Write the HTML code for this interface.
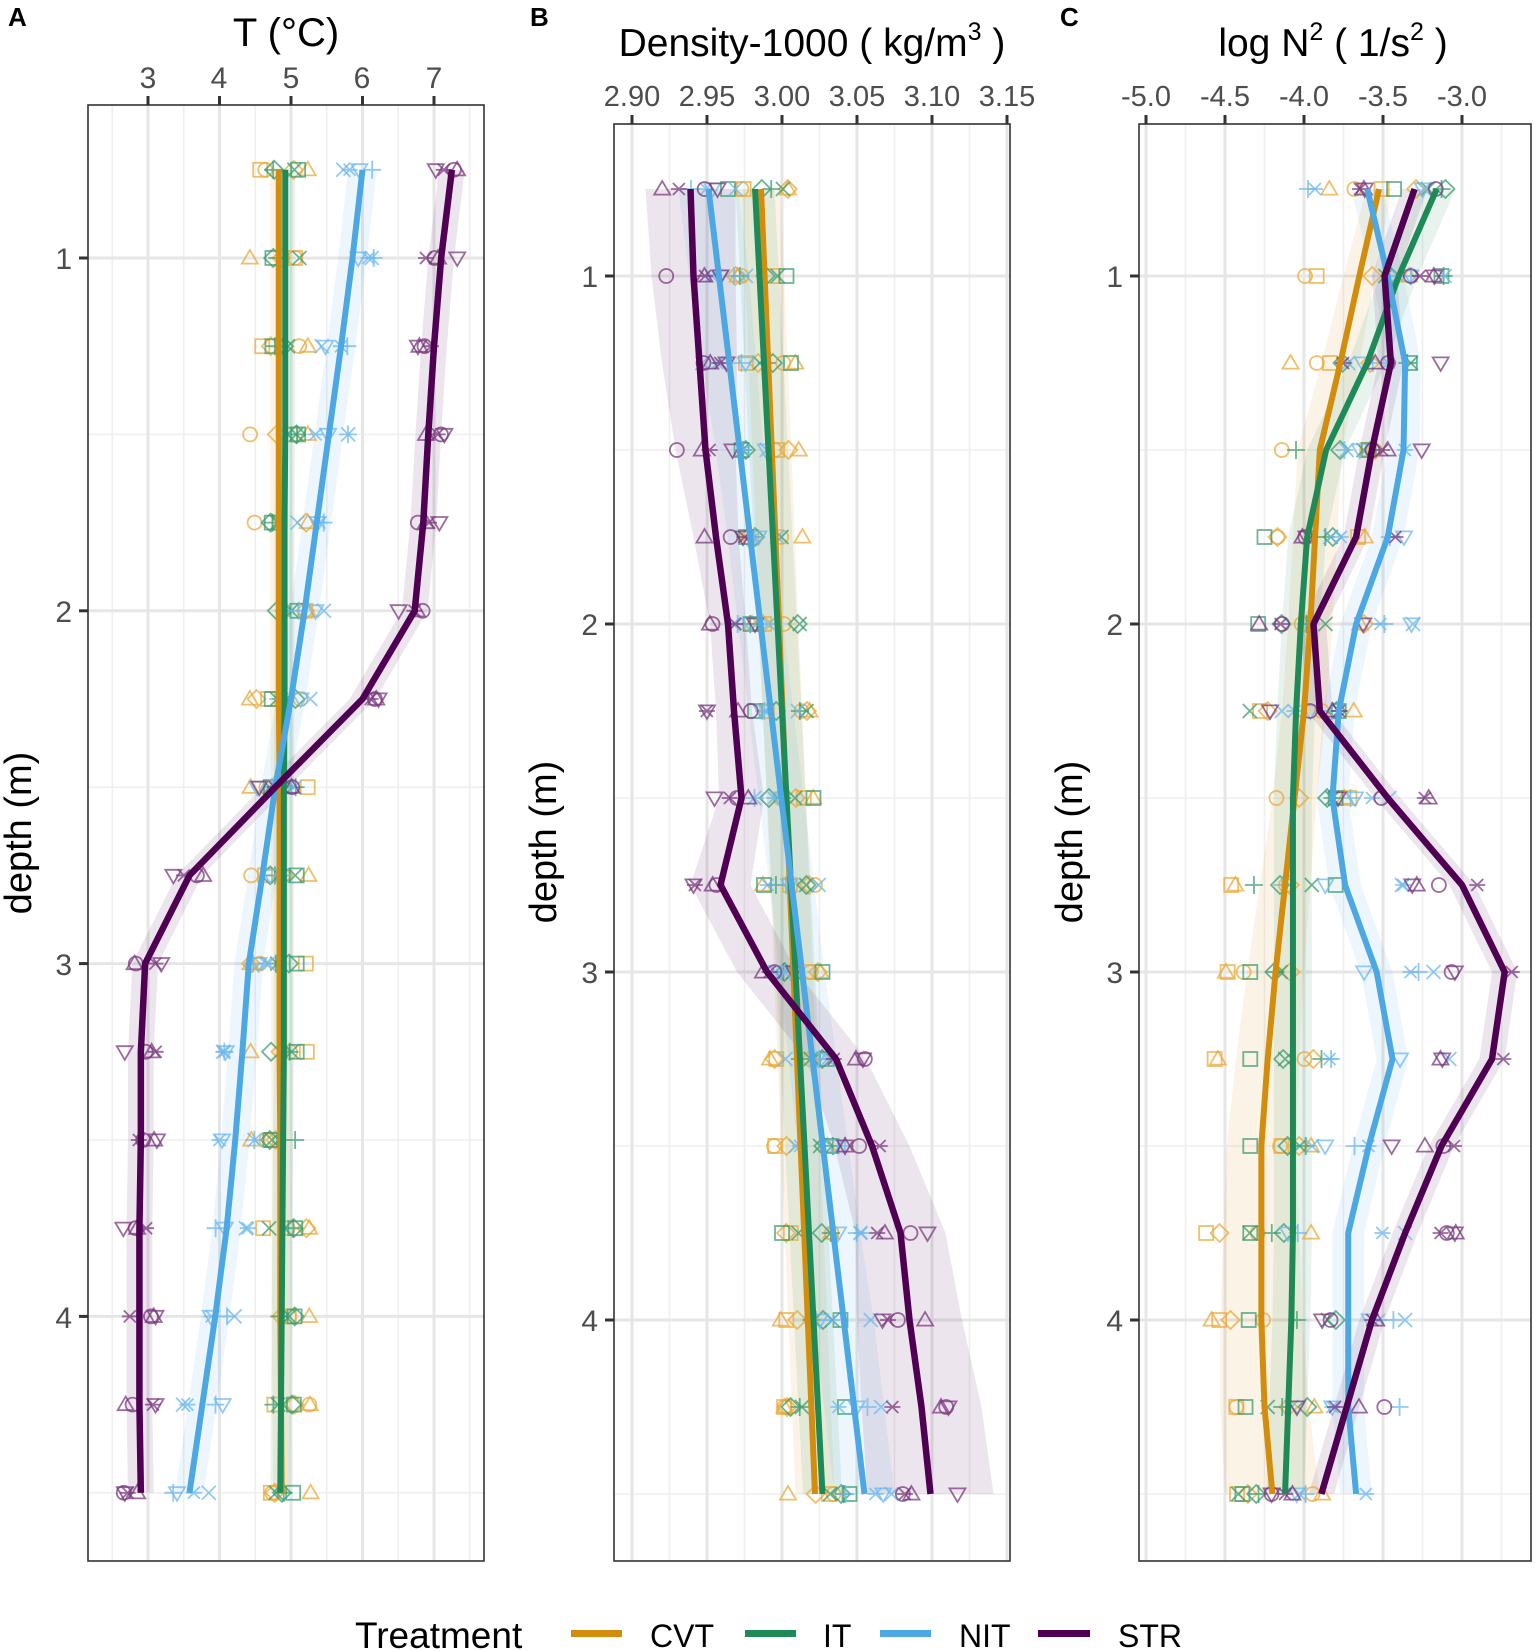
<!DOCTYPE html>
<html><head><meta charset="utf-8"><style>
html,body{margin:0;padding:0;background:#fff;}
body{width:1535px;height:1651px;overflow:hidden;position:relative;font-family:"Liberation Sans",sans-serif;}
svg{position:absolute;left:0;top:0;}
</style></head><body>
<svg id="s" width="1535" height="1651" xmlns="http://www.w3.org/2000/svg" font-family="Liberation Sans, sans-serif">
<g id="plots"></g>
<text x="8" y="26" font-size="26" font-weight="bold">A</text>
<text x="530" y="26" font-size="26" font-weight="bold">B</text>
<text x="1060" y="26" font-size="26" font-weight="bold">C</text>
<text x="286" y="46" font-size="40" text-anchor="middle">T (°C)</text>
<text x="812" y="56" font-size="39" text-anchor="middle">Density-1000 ( kg/m<tspan font-size="25" dy="-16">3</tspan><tspan dy="16"> )</tspan></text>
<text x="1333" y="56" font-size="39" text-anchor="middle">log  N<tspan font-size="25" dy="-16">2</tspan><tspan dy="16"> ( 1/s</tspan><tspan font-size="25" dy="-16">2</tspan><tspan dy="16"> )</tspan></text>
<g font-size="30" fill="#4d4d4d" text-anchor="middle">
<text x="148" y="88">3</text><text x="219" y="88">4</text><text x="291" y="88">5</text><text x="362" y="88">6</text><text x="434" y="88">7</text>
</g>
<g font-size="29" fill="#4d4d4d" text-anchor="middle">
<text x="632" y="106">2.90</text><text x="707" y="106">2.95</text><text x="782" y="106">3.00</text><text x="857" y="106">3.05</text><text x="932" y="106">3.10</text><text x="1007" y="106">3.15</text>
<text x="1146" y="106">-5.0</text><text x="1225" y="106">-4.5</text><text x="1304" y="106">-4.0</text><text x="1383" y="106">-3.5</text><text x="1462" y="106">-3.0</text>
</g>
<g font-size="30" fill="#4d4d4d" text-anchor="end">
<text x="72" y="269">1</text><text x="72" y="622">2</text><text x="72" y="975">3</text><text x="72" y="1328">4</text>
<text x="598" y="287">1</text><text x="598" y="635">2</text><text x="598" y="983">3</text><text x="598" y="1331">4</text>
<text x="1123" y="287">1</text><text x="1123" y="635">2</text><text x="1123" y="983">3</text><text x="1123" y="1331">4</text>
</g>
<text transform="translate(31,833) rotate(-90)" font-size="38" text-anchor="middle">depth (m)</text>
<text transform="translate(556,842) rotate(-90)" font-size="38" text-anchor="middle">depth (m)</text>
<text transform="translate(1082,842) rotate(-90)" font-size="38" text-anchor="middle">depth (m)</text>
<text x="355" y="1648" font-size="37">Treatment</text>
<rect x="571" y="1630" width="51" height="7" fill="#D38D0C"/>
<text x="650" y="1647" font-size="32">CVT</text>
<rect x="745" y="1630" width="51" height="7" fill="#1E8A58"/>
<text x="823" y="1647" font-size="32">IT</text>
<rect x="880" y="1630" width="51" height="7" fill="#4BA8E3"/>
<text x="959" y="1647" font-size="32">NIT</text>
<rect x="1038" y="1630" width="52" height="7" fill="#500053"/>
<text x="1118" y="1647" font-size="32">STR</text>
</svg>
<script>
(function(){
var NS="http://www.w3.org/2000/svg",G=document.getElementById("plots");
function el(n,a,p){var e=document.createElementNS(NS,n);for(var k in a)e.setAttribute(k,a[k]);(p||G).appendChild(e);return e;}
var C={CVT:"#D38D0C",IT:"#1E8A58",NIT:"#4BA8E3",STR:"#500053"};
var MC={CVT:"#E9A93A",IT:"#3C9C70",NIT:"#6DB8EC",STR:"#7A3A7E"};
var depths=[];for(var d=0.75;d<=4.51;d+=0.25)depths.push(d);
var seed=7;function rnd(){seed=(seed*16807)%2147483647;return seed/2147483647;}
function panel(P){
  var xf=P.xf,yf=P.yf;
  for(var v=P.minStart;v<=P.xmax;v+=P.minStep){var x=xf(v);if(x>P.l&&x<P.r)el("line",{x1:x,x2:x,y1:P.t,y2:P.b,stroke:"#efefef","stroke-width":1.6});}
  for(var d=0.5;d<=4.6;d+=0.5){var y=yf(d);if(y>P.t&&y<P.b)el("line",{x1:P.l,x2:P.r,y1:y,y2:y,stroke:(d%1==0)?"#e6e6e6":"#efefef","stroke-width":(d%1==0)?3:1.6});}
  P.majors.forEach(function(v){var x=xf(v);el("line",{x1:x,x2:x,y1:P.t,y2:P.b,stroke:"#e6e6e6","stroke-width":3});
    el("line",{x1:x,x2:x,y1:P.t-9,y2:P.t,stroke:"#333","stroke-width":3});});
  [1,2,3,4].forEach(function(d){var y=yf(d);el("line",{x1:P.l-9,x2:P.l,y1:y,y2:y,stroke:"#333","stroke-width":3});});
  ["CVT","IT","NIT","STR"].forEach(function(k){
    var s=P.data[k],w=P.rib[k],pts=[],i;
    for(i=0;i<s.length;i++)pts.push((xf(s[i]-w[i]))+","+yf(depths[i]));
    for(i=s.length-1;i>=0;i--)pts.push((xf(s[i]+w[i]))+","+yf(depths[i]));
    el("polygon",{points:pts.join(" "),fill:C[k],"fill-opacity":0.1});
  });
  var shapes=["tri","circ","sq","dia","x","plus","tridn","star"];
  ["CVT","IT","NIT","STR"].forEach(function(k,ki){
    var s=P.data[k];
    for(var i=0;i<s.length;i++){
      for(var j=0;j<4;j++){
        var off=(rnd()-0.5)*2*P.spread[k];
        if(j==0) off=P.spread[k]*0.9*(rnd()>0.5?1:-1);
        var x=xf(s[i]+off),y=yf(depths[i]);
        if(x<P.l+8||x>P.r-8)continue;
        mk(shapes[(ki*2+j)%8],x,y,MC[k]);
      }
    }
  });
  ["CVT","IT","NIT","STR"].forEach(function(k){
    var s=P.data[k],pts=[];
    for(var i=0;i<s.length;i++)pts.push(xf(s[i])+","+yf(depths[i]));
    el("polyline",{points:pts.join(" "),fill:"none",stroke:C[k],"stroke-width":k=="STR"?6.5:6,"stroke-linejoin":"round"});
  });
  el("rect",{x:P.l,y:P.t,width:P.r-P.l,height:P.b-P.t,fill:"none",stroke:"#333","stroke-width":1.6});
}
function mk(t,x,y,c){
  var a={fill:"none",stroke:c,"stroke-width":1.8,"stroke-opacity":0.75},r=8;
  if(t=="tri")el("polygon",Object.assign({points:x+","+(y-r)+" "+(x-r)+","+(y+r*0.7)+" "+(x+r)+","+(y+r*0.7)},a));
  else if(t=="tridn")el("polygon",Object.assign({points:x+","+(y+r)+" "+(x-r)+","+(y-r*0.7)+" "+(x+r)+","+(y-r*0.7)},a));
  else if(t=="circ")el("circle",Object.assign({cx:x,cy:y,r:7},a));
  else if(t=="sq")el("rect",Object.assign({x:x-7,y:y-7,width:14,height:14},a));
  else if(t=="dia")el("polygon",Object.assign({points:x+","+(y-r-1)+" "+(x+r+1)+","+y+" "+x+","+(y+r+1)+" "+(x-r-1)+","+y},a));
  else if(t=="x")el("path",Object.assign({d:"M"+(x-7)+" "+(y-7)+"L"+(x+7)+" "+(y+7)+"M"+(x+7)+" "+(y-7)+"L"+(x-7)+" "+(y+7)},a));
  else if(t=="plus")el("path",Object.assign({d:"M"+(x-9)+" "+y+"L"+(x+9)+" "+y+"M"+x+" "+(y-9)+"L"+x+" "+(y+9)},a));
  else el("path",Object.assign({d:"M"+(x-8)+" "+y+"L"+(x+8)+" "+y+"M"+(x-6)+" "+(y-6)+"L"+(x+6)+" "+(y+6)+"M"+(x+6)+" "+(y-6)+"L"+(x-6)+" "+(y+6)},a));
}
function fill(v,n){var a=[];for(var i=0;i<n;i++)a.push(v);return a;}
function lerp(a,b){var r=[];for(var i=0;i<16;i++)r.push(a+(b-a)*i/15);return r;}
panel({l:88,r:484,t:105,b:1561,xf:function(v){return 148+(v-3)*71.5},yf:function(d){return 258+(d-1)*352.8},
 minStart:2.5,minStep:0.5,xmax:7.7,majors:[3,4,5,6,7],
 data:{CVT:[4.83,4.83,4.83,4.83,4.83,4.83,4.83,4.84,4.84,4.84,4.84,4.85,4.85,4.85,4.86,4.87],
       IT:[4.92,4.92,4.92,4.92,4.91,4.91,4.91,4.9,4.9,4.9,4.9,4.89,4.88,4.87,4.86,4.85],
       NIT:[6.0,5.86,5.7,5.53,5.36,5.19,5.0,4.78,4.6,4.41,4.32,4.22,4.1,3.94,3.76,3.58],
       STR:[7.25,7.1,7.0,6.92,6.85,6.73,6.0,4.78,3.58,2.96,2.9,2.9,2.88,2.88,2.88,2.9]},
 rib:{CVT:fill(0.12,16),IT:fill(0.14,16),NIT:fill(0.2,16),STR:fill(0.18,16)},
 spread:{CVT:0.45,IT:0.2,NIT:0.3,STR:0.25}});
panel({l:614,r:1010,t:124,b:1561,xf:function(v){return 632+(v-2.9)/0.05*75},yf:function(d){return 276+(d-1)*348},
 minStart:2.875,minStep:0.025,xmax:3.16,majors:[2.9,2.95,3.0,3.05,3.1,3.15],
 data:{CVT:lerp(2.986,3.022),IT:lerp(2.982,3.027),NIT:lerp(2.951,3.055),
       STR:[2.939,2.941,2.945,2.949,2.956,2.964,2.968,2.973,2.959,2.99,3.036,3.06,3.079,3.085,3.093,3.099]},
 rib:{CVT:fill(0.013,16),IT:fill(0.013,16),NIT:[0.02,0.02,0.018,0.016,0.015,0.015,0.015,0.015,0.015,0.015,0.016,0.017,0.018,0.02,0.02,0.02],
      STR:[0.03,0.028,0.025,0.02,0.015,0.012,0.012,0.015,0.02,0.02,0.02,0.025,0.03,0.035,0.04,0.042]},
 spread:{CVT:0.02,IT:0.02,NIT:0.02,STR:0.02}});
panel({l:1139,r:1531,t:124,b:1561,xf:function(v){return 1146+(v+5)/0.5*79},yf:function(d){return 276+(d-1)*348},
 minStart:-5.25,minStep:0.25,xmax:-2.5,majors:[-5,-4.5,-4,-3.5,-3],
 data:{CVT:[-3.525,-3.65,-3.77,-3.9,-3.93,-3.96,-4.0,-4.06,-4.12,-4.18,-4.23,-4.27,-4.27,-4.27,-4.25,-4.2],
       IT:[-3.16,-3.4,-3.6,-3.86,-3.98,-4.02,-4.05,-4.07,-4.07,-4.07,-4.07,-4.07,-4.07,-4.08,-4.1,-4.12],
       NIT:[-3.6,-3.47,-3.36,-3.37,-3.47,-3.67,-3.78,-3.82,-3.74,-3.54,-3.44,-3.59,-3.72,-3.72,-3.72,-3.67],
       STR:[-3.3,-3.49,-3.45,-3.57,-3.67,-3.94,-3.9,-3.47,-3.0,-2.73,-2.81,-3.13,-3.36,-3.57,-3.73,-3.89]},
 rib:{CVT:[0.08,0.1,0.12,0.14,0.14,0.14,0.14,0.14,0.16,0.18,0.2,0.22,0.24,0.26,0.28,0.3],IT:fill(0.12,16),NIT:fill(0.1,16),STR:fill(0.08,16)},
 spread:{CVT:0.35,IT:0.3,NIT:0.4,STR:0.35}});
})();
</script>
</body></html>
